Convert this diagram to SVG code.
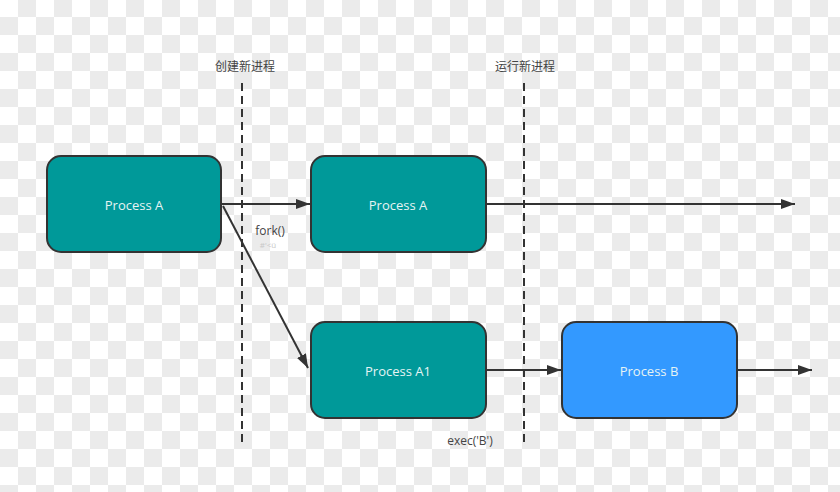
<svg xmlns="http://www.w3.org/2000/svg" width="840" height="492" viewBox="0 0 840 492">
<defs>
<pattern id="chk" x="0" y="-1" width="36" height="36" patternUnits="userSpaceOnUse">
<rect width="36" height="36" fill="#ffffff"/>
<rect x="18" y="0" width="18" height="18" fill="#ebebeb"/>
<rect x="0" y="18" width="18" height="18" fill="#ebebeb"/>
</pattern>
<marker id="arr" viewBox="0 0 14 10" refX="14" refY="5" markerWidth="14" markerHeight="10" markerUnits="userSpaceOnUse" orient="auto">
<path d="M0,0 L14,5 L0,10 Z" fill="#333333"/>
</marker>
<style>
.box{stroke:#333333;stroke-width:2}
.teal{fill:#009999}
.blue{fill:#3399ff}
.lbl{font-family:"Open Sans","Liberation Sans",sans-serif;font-size:13px;fill:#e6f4f4;text-anchor:middle}
.conn{stroke:#333333;stroke-width:2;fill:none}
.dash{stroke:#333333;stroke-width:2;stroke-dasharray:8 5;fill:none}
.note{font-family:"Noto Sans CJK SC","Open Sans","Liberation Sans",sans-serif;font-size:12px;fill:#444444;text-anchor:middle}
.lat{font-family:"Open Sans","Liberation Sans",sans-serif;font-size:12px;fill:#444444;text-anchor:middle}
</style>
</defs>
<rect width="840" height="492" fill="url(#chk)"/>
<g id="separators">
<line class="dash" x1="242" y1="83" x2="242" y2="447"/>
<line class="dash" x1="524" y1="83" x2="524" y2="447"/>
<text class="note" x="245" y="71">创建新进程</text>
<text class="note" x="525" y="71">运行新进程</text>
</g>
<g id="connectors">
<line class="conn" x1="221" y1="204" x2="310" y2="204" marker-end="url(#arr)"/>
<line class="conn" x1="223" y1="206" x2="308" y2="368" marker-end="url(#arr)"/>
<line class="conn" x1="486" y1="204" x2="795" y2="204" marker-end="url(#arr)"/>
<line class="conn" x1="486" y1="370" x2="561" y2="370" marker-end="url(#arr)"/>
<line class="conn" x1="737" y1="370" x2="812" y2="370" marker-end="url(#arr)"/>
<text class="lat" x="270" y="235">fork()</text>
<text class="lat" x="268" y="248" style="font-size:8px;fill:#c8c8c8">#'&lt;ü</text>
<text class="lat" x="470" y="445">exec('B')</text>
</g>
<g id="processA">
<rect class="box teal" x="47" y="156" width="174" height="96" rx="14"/>
<text class="lbl" x="134" y="210">Process A</text>
</g>
<g id="processA2">
<rect class="box teal" x="311" y="156" width="175" height="96" rx="14"/>
<text class="lbl" x="398" y="210">Process A</text>
</g>
<g id="processA1">
<rect class="box teal" x="311" y="322" width="175" height="96" rx="14"/>
<text class="lbl" x="398" y="376">Process A1</text>
</g>
<g id="processB">
<rect class="box blue" x="562" y="322" width="175" height="96" rx="14"/>
<text class="lbl" x="649" y="376">Process B</text>
</g>
</svg>
